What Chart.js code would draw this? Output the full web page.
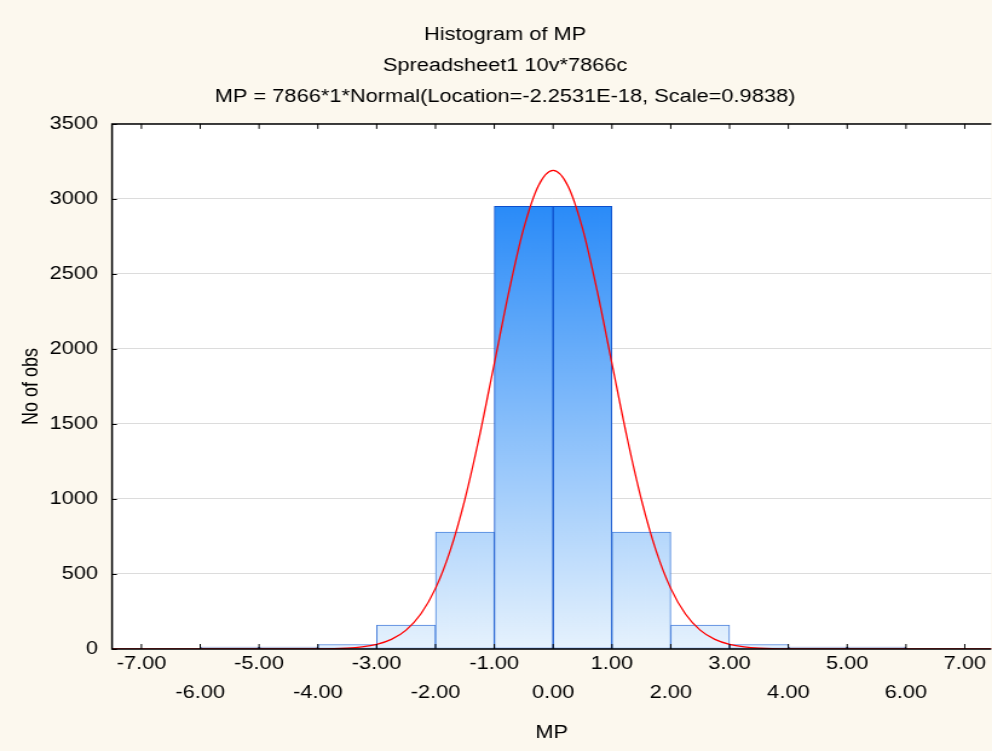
<!DOCTYPE html>
<html lang="en">
<head>
  <meta charset="UTF-8">
  <title>Histogram of MP</title>
  <script src="https://cdn.jsdelivr.net/npm/chart.js"></script>
  <style>
    html, body { margin: 0; padding: 0; background: #fcf8ee; overflow: hidden; }
    /* the reference is a horizontally stretched export, so draw at 820 wide and stretch to 992 */
    #wrap { width: 820px; height: 751px; position: relative; transform: scaleX(1.2098); transform-origin: 0 0; }
  </style>
</head>
<body>
<div id="wrap"><canvas id="histCanvas"></canvas></div>

<script>
// histogram bins (centres of 1.00-wide classes) and counts
const binCenters = [-5.5, -4.5, -3.5, -2.5, -1.5, -0.5, 0.5, 1.5, 2.5, 3.5, 4.5, 5.5];
const binCounts  = [2, 5, 30, 160, 780, 2950, 2950, 780, 160, 30, 5, 2];
const binBorders = ['#1c2e86', '#1c2e86', '#4a80dc', '#4a80dc', '#4a84de', '#0d4fcc',
                    '#0d4fcc', '#4a84de', '#4a80dc', '#4a80dc', '#1c2e86', '#1c2e86'];

// fitted normal curve, sampled from the red line
const curveX = [-7.5, -6, -5, -4, -3.5, -3.25, -3, -2.75, -2.5, -2.25, -2, -1.75, -1.5, -1.25, -1, -0.75, -0.5, -0.25,
                0, 0.25, 0.5, 0.75, 1, 1.25, 1.5, 1.75, 2, 2.25, 2.5, 2.75, 3, 3.25, 3.5, 4, 5, 6, 7.5];
const curveY = [0, 0, 0, 1, 6, 14, 31, 64, 126, 233, 404, 656, 998, 1423, 1903, 2385, 2803, 3088,
                3190, 3088, 2803, 2385, 1903, 1423, 998, 656, 404, 233, 126, 64, 31, 14, 6, 1, 0, 0, 0];

const xTicks = [-7, -6, -5, -4, -3, -2, -1, 0, 1, 2, 3, 4, 5, 6, 7];
const yTicks = [0, 500, 1000, 1500, 2000, 2500, 3000, 3500];

const titleLines = [
  'Histogram of MP',
  'Spreadsheet1 10v*7866c',
  'MP = 7866*1*Normal(Location=-2.2531E-18, Scale=0.9838)'
];

const FONT = "'Liberation Sans', Arial, sans-serif";

function barGradient(context) {
  const chart = context.chart;
  if (!chart.chartArea) return '#8cc3fa';
  const y = chart.scales.y;
  const g = chart.ctx.createLinearGradient(0, y.getPixelForValue(2950), 0, y.getPixelForValue(0));
  g.addColorStop(0, '#2a8bf8');
  g.addColorStop(1, '#e6f2fd');
  return g;
}

// cream page, white plot, frame and inward tick marks
const frame = {
  id: 'frame',
  beforeDraw(chart) {
    const { ctx, chartArea: a } = chart;
    ctx.save();
    ctx.fillStyle = '#fcf8ee';
    ctx.fillRect(0, 0, chart.width, chart.height);
    ctx.fillStyle = '#ffffff';
    ctx.fillRect(a.left, a.top, a.right - a.left, a.bottom - a.top);
    ctx.restore();
  },
  afterDraw(chart) {
    const { ctx, chartArea: a, scales } = chart;
    ctx.save();
    ctx.strokeStyle = '#000';
    ctx.lineWidth = 1.5;
    ctx.beginPath();
    ctx.moveTo(a.right, a.top); ctx.lineTo(a.left, a.top);
    ctx.lineTo(a.left, a.bottom); ctx.lineTo(a.right, a.bottom);
    ctx.stroke();
    ctx.lineWidth = 1;
    ctx.beginPath();
    xTicks.forEach(v => {
      const px = scales.x.getPixelForValue(v);
      ctx.moveTo(px, a.bottom); ctx.lineTo(px, a.bottom - 5);
      ctx.moveTo(px, a.top); ctx.lineTo(px, a.top + 5);
    });
    yTicks.forEach(v => {
      const py = Math.round(scales.y.getPixelForValue(v)) + 0.5;
      ctx.moveTo(a.left, py); ctx.lineTo(a.left + 4, py);
    });
    ctx.stroke();
    ctx.restore();
  }
};

new Chart(document.getElementById('histCanvas'), {
  type: 'bar',
  data: {
    datasets: [
      {
        type: 'line',
        data: curveX.map((x, i) => ({ x: x, y: curveY[i] })),
        borderColor: '#ff0000',
        borderWidth: 1.3,
        pointRadius: 0,
        cubicInterpolationMode: 'monotone',
        order: 0
      },
      {
        type: 'bar',
        data: binCenters.map((x, i) => ({ x: x, y: binCounts[i] })),
        backgroundColor: barGradient,
        borderColor: binBorders,
        borderWidth: 1,
        borderSkipped: false,
        minBarLength: 2,
        barPercentage: 1,
        categoryPercentage: 1,
        order: 1
      }
    ]
  },
  options: {
    responsive: true,
    maintainAspectRatio: false,
    animation: false,
    layout: { padding: { left: 15, right: 0, top: 0, bottom: 0 } },
    plugins: {
      legend: { display: false },
      tooltip: { enabled: false },
      title: {
        display: true,
        text: titleLines,
        color: '#000',
        font: { family: FONT, size: 18, weight: 'normal', lineHeight: 1.72 },
        padding: { top: 19.5, bottom: 11.5 }
      }
    },
    scales: {
      x: {
        type: 'linear',
        offset: false,
        min: -7.5,
        max: 7.45,
        afterBuildTicks: s => { s.ticks = xTicks.map(v => ({ value: v })); },
        afterFit: s => { s.height = 102; },
        grid: { display: false, drawTicks: false, offset: false },
        border: { display: false },
        ticks: {
          autoSkip: false,
          maxRotation: 0,
          padding: 1,
          color: '#000',
          font: { family: FONT, size: 18, lineHeight: 1.61 },
          callback: v => {
            const s = v.toFixed(2);
            return Math.round(v) % 2 === 0 ? ['', s] : [s];
          }
        },
        title: {
          display: true,
          text: 'MP',
          color: '#000',
          font: { family: FONT, size: 18, lineHeight: 1.2 },
          padding: { top: 0, bottom: 7 }
        }
      },
      y: {
        min: 0,
        max: 3500,
        afterBuildTicks: s => { s.ticks = yTicks.map(v => ({ value: v })); },
        afterFit: s => { s.width = 77.6; },
        grid: { color: '#dcdcdc', lineWidth: 1, drawTicks: false },
        border: { display: false },
        ticks: {
          padding: 11.6,
          color: '#000',
          font: { family: FONT, size: 18 },
          callback: v => String(v)
        },
        title: {
          display: true,
          text: 'No of obs',
          color: '#000',
          font: { family: FONT, size: 18, lineHeight: 1.2 },
          padding: { top: 0, bottom: 0 }
        }
      }
    }
  },
  plugins: [frame]
});
</script>
</body>
</html>
